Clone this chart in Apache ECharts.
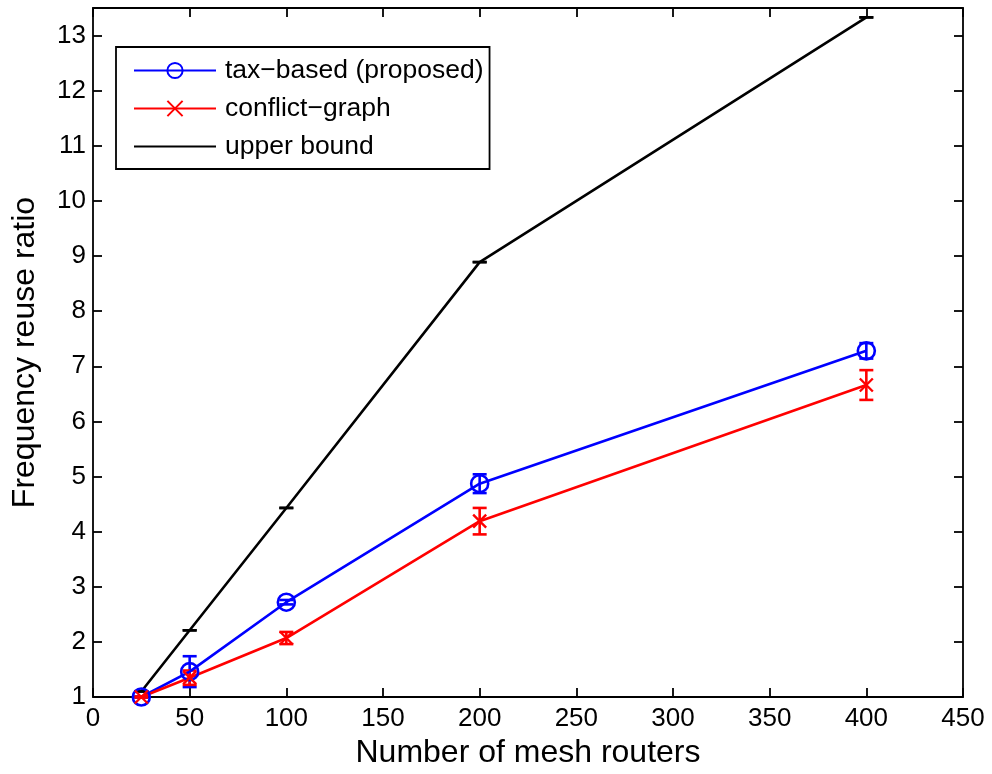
<!DOCTYPE html>
<html>
<head>
<meta charset="utf-8">
<title>Frequency reuse ratio vs. number of mesh routers</title>
<script src="https://cdn.jsdelivr.net/npm/echarts@6/dist/echarts.min.js"></script>
<style>
  html, body { margin: 0; padding: 0; background: #fff; }
  #chart { width: 992px; height: 774px; }
</style>
</head>
<body>
<div id="chart"></div>
<script>
// Network sizes (number of mesh routers)
const routers = [25, 50, 100, 200, 400];

// Tax-based scheme: mean ratio and half-width of error bar
const taxBased = [1.0, 1.46, 2.72, 4.87, 7.28];
const taxBasedErr = [0.01, 0.28, 0.04, 0.17, 0.14];

// Conflict-graph scheme
const conflictGraph = [1.0, 1.35, 2.07, 4.19, 6.66];
const conflictGraphErr = [0.01, 0.13, 0.11, 0.24, 0.27];

// Upper bound (no spread)
const upperBound = [1.1, 2.21, 4.43, 8.89, 13.33];
const upperBoundErr = [0, 0, 0, 0, 0];

const xTicks = { min: 0, max: 450, step: 50 };
const yTicks = { min: 1, max: 13.5, step: 1 };

const FONT = 'Liberation Sans, Arial, Helvetica, sans-serif';
const BLUE = '#0000ff', RED = '#ff0000', BLACK = '#000000';

function toPairs(xs, ys) { return xs.map((x, i) => [x, ys[i]]); }
function errData(xs, ys, es) { return xs.map((x, i) => [x, ys[i] - es[i], ys[i] + es[i]]); }

function errorBarSeries(name, data, color) {
  return {
    type: 'custom',
    name: name + ' error',
    data: data,
    z: 3,
    clip: false,
    silent: true,
    encode: { x: 0, y: [1, 2] },
    renderItem: function (params, api) {
      const lo = api.coord([api.value(0), api.value(1)]);
      const hi = api.coord([api.value(0), api.value(2)]);
      const half = 7;
      const style = { stroke: color, lineWidth: 2.6, fill: null };
      return {
        type: 'group',
        children: [
          { type: 'line', shape: { x1: lo[0], y1: lo[1], x2: hi[0], y2: hi[1] }, style: style },
          { type: 'line', shape: { x1: lo[0] - half, y1: lo[1], x2: lo[0] + half, y2: lo[1] }, style: style },
          { type: 'line', shape: { x1: hi[0] - half, y1: hi[1], x2: hi[0] + half, y2: hi[1] }, style: style }
        ]
      };
    }
  };
}

const hideNonInteger = v => (Math.abs(v - Math.round(v)) < 1e-9 ? String(v) : '');

const chart = echarts.init(document.getElementById('chart'), null, { renderer: 'canvas' });

const axisLineStyle = { color: BLACK, width: 1.8 };
const tickStyle = { show: true, inside: true, length: 9, lineStyle: { color: BLACK, width: 1.8 } };

const option = {
  backgroundColor: '#ffffff',
  animation: false,
  textStyle: { fontFamily: FONT },
  grid: { left: 93, right: 29, top: 8, bottom: 77, containLabel: false },
  legend: {
    orient: 'vertical',
    left: 116,
    top: 47,
    data: ['tax\u2212based (proposed)', 'conflict\u2212graph', 'upper bound'],
    backgroundColor: '#ffffff',
    borderColor: BLACK,
    borderWidth: 1.8,
    borderRadius: 0,
    padding: [10, 6, 9, 17],
    itemWidth: 82,
    itemHeight: 19,
    itemGap: 11,
    textStyle: { fontFamily: FONT, fontSize: 26.5, color: BLACK, padding: [0, 0, 0, 4] },
    selectedMode: false
  },
  xAxis: [
    {
      type: 'value', position: 'bottom',
      min: xTicks.min, max: xTicks.max, interval: xTicks.step,
      name: 'Number of mesh routers', nameLocation: 'middle', nameGap: 39,
      nameTextStyle: { fontFamily: FONT, fontSize: 32, color: BLACK },
      axisLine: { show: true, onZero: false, lineStyle: axisLineStyle },
      axisTick: tickStyle,
      axisLabel: { fontFamily: FONT, fontSize: 26, color: BLACK, margin: 9 },
      splitLine: { show: false }
    },
    {
      type: 'value', position: 'top',
      min: xTicks.min, max: xTicks.max, interval: xTicks.step,
      axisLine: { show: true, onZero: false, lineStyle: axisLineStyle },
      axisTick: tickStyle,
      axisLabel: { show: false },
      splitLine: { show: false }
    }
  ],
  yAxis: [
    {
      type: 'value', position: 'left',
      min: yTicks.min, max: yTicks.max, interval: yTicks.step,
      name: 'Frequency reuse ratio', nameLocation: 'middle', nameGap: 52,
      nameTextStyle: { fontFamily: FONT, fontSize: 32, color: BLACK },
      axisLine: { show: true, onZero: false, lineStyle: axisLineStyle },
      axisTick: tickStyle,
      axisLabel: { fontFamily: FONT, fontSize: 26, color: BLACK, margin: 7, formatter: hideNonInteger, showMaxLabel: false },
      splitLine: { show: false }
    },
    {
      type: 'value', position: 'right',
      min: yTicks.min, max: yTicks.max, interval: yTicks.step,
      axisLine: { show: true, onZero: false, lineStyle: axisLineStyle },
      axisTick: tickStyle,
      axisLabel: { show: false },
      splitLine: { show: false }
    }
  ],
  series: [
    {
      name: 'tax\u2212based (proposed)',
      type: 'line',
      data: toPairs(routers, taxBased),
      symbol: 'circle',
      symbolSize: 17,
      clip: false,
      z: 4,
      lineStyle: { color: BLUE, width: 2.6 },
      itemStyle: { color: 'rgba(0,0,0,0)', borderColor: BLUE, borderWidth: 2.6 }
    },
    {
      name: 'conflict\u2212graph',
      type: 'line',
      data: toPairs(routers, conflictGraph),
      symbol: 'path://M0,0L10,10M10,0L0,10',
      symbolSize: 13,
      clip: false,
      z: 4,
      lineStyle: { color: RED, width: 2.6 },
      itemStyle: { color: RED, borderColor: RED, borderWidth: 2.4 }
    },
    {
      name: 'upper bound',
      type: 'line',
      data: toPairs(routers, upperBound),
      symbol: 'circle',
      showSymbol: false,
      clip: false,
      z: 4,
      lineStyle: { color: BLACK, width: 2.6 },
      itemStyle: { color: 'rgba(0,0,0,0)', borderWidth: 0 }
    },
    errorBarSeries('tax\u2212based (proposed)', errData(routers, taxBased, taxBasedErr), BLUE),
    errorBarSeries('conflict\u2212graph', errData(routers, conflictGraph, conflictGraphErr), RED),
    errorBarSeries('upper bound', errData(routers, upperBound, upperBoundErr), BLACK)
  ]
};

chart.setOption(option);
</script>
</body>
</html>
